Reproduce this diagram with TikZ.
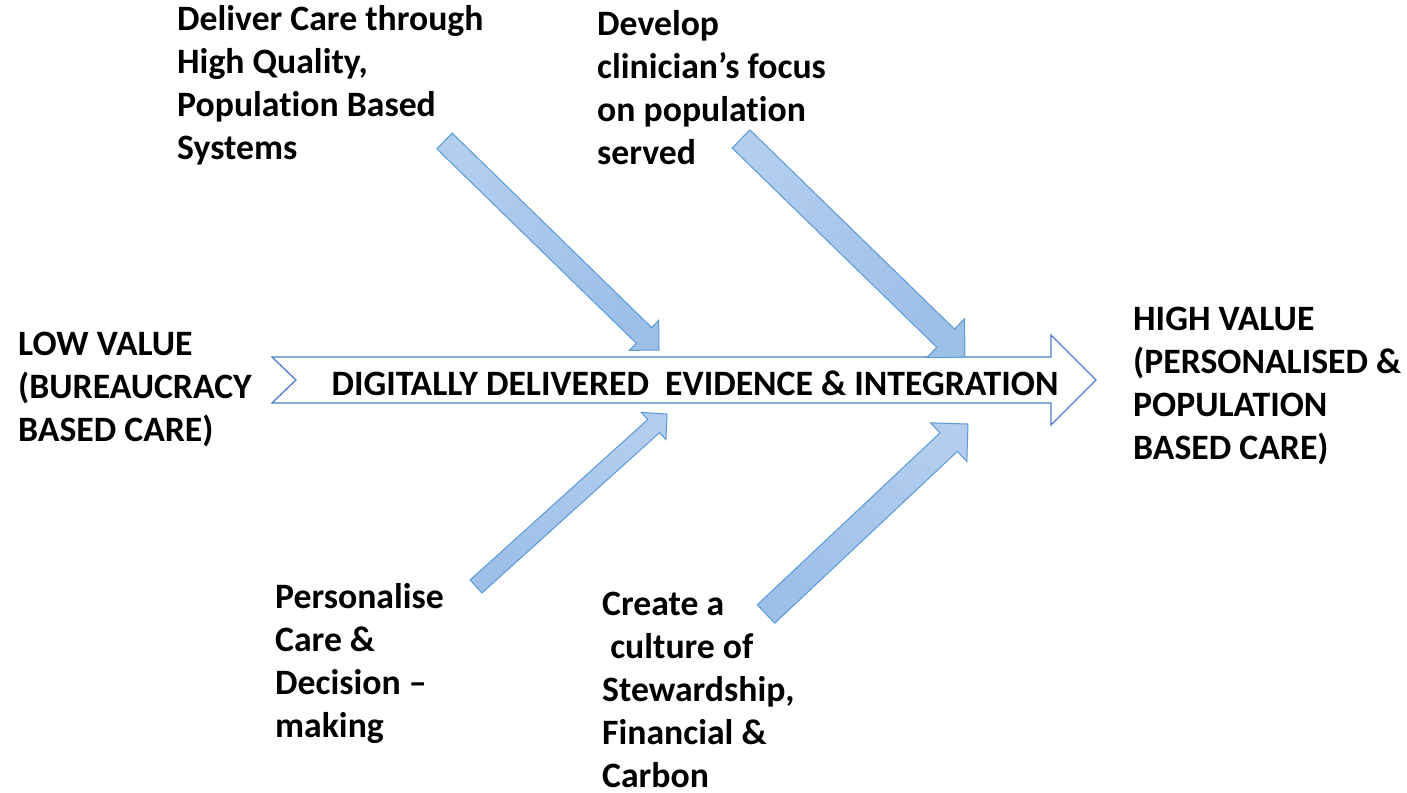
\documentclass[tikz,border=0pt]{standalone}
\usepackage{fontspec}
\setmainfont{Carlito}[Ligatures=NoCommon]
\usetikzlibrary{calc}
\definecolor{edgeblue}{HTML}{5B9BD5}
\definecolor{spineblue}{HTML}{4A7EC8}
\definecolor{filllight}{HTML}{B2CDEE}
\definecolor{filldark}{HTML}{9DBFE8}
\tikzset{
  lbl/.style={font=\fontsize{35.7}{43}\selectfont\bfseries, align=left, anchor=base west, inner sep=0pt, text=black},
  fishbone/.style={draw=edgeblue, line width=1pt, line join=miter, top color=filllight, bottom color=filldark, shading angle=#1},
  spine/.style={draw=spineblue, line width=1.3pt, fill=white, line join=miter}
}
\newcommand{\blockarrow}[7]{% name, tail, tip, half shaft, half head, head length, shading angle
  \coordinate (#1-T) at #2;
  \coordinate (#1-P) at #3;
  \coordinate (#1-H) at ($(#1-P)!#6!(#1-T)$);
  \draw[fishbone=#7] ($(#1-T)!#4!90:(#1-P)$) -- ($(#1-H)!#4!90:(#1-P)$) -- ($(#1-H)!#5!90:(#1-P)$)
     -- (#1-P) -- ($(#1-H)!#5!-90:(#1-P)$) -- ($(#1-H)!#4!-90:(#1-P)$) -- ($(#1-T)!#4!-90:(#1-P)$) -- cycle;
}
\begin{document}
\begin{tikzpicture}[x=1pt,y=-1pt]
\useasboundingbox[fill=white] (0,0) rectangle (1407,792);
% spine
\coordinate (s1) at (272,357);
\coordinate (s2) at (1051,357);
\coordinate (s3) at (1051,335);
\coordinate (s4) at (1096,380);
\coordinate (s5) at (1051,425);
\coordinate (s6) at (1051,403);
\coordinate (s7) at (272,403);
\coordinate (s8) at (296,380);
\draw[spine] (s1) -- (s2) -- (s3) -- (s4) -- (s5) -- (s6) -- (s7) -- (s8) -- cycle;
\node[lbl, anchor=base] (spinetext) at (695,395) {DIGITALLY DELIVERED\ \ EVIDENCE \& INTEGRATION};
% fishbone arrows
\blockarrow{a1}{(444.5,141)}{(659,350)}{11pt}{21pt}{21pt}{45}
\blockarrow{a2}{(741,139)}{(965,357)}{12.7pt}{27pt}{27pt}{45}
\blockarrow{a3}{(476,586.5)}{(667,414)}{8.8pt}{18.4pt}{18pt}{-45}
\blockarrow{a4}{(766,614)}{(968,424)}{12.7pt}{26.5pt}{26.5pt}{-45}
% labels (anchor = baseline of the last line)
\node[lbl] (low) at (18,441) {LOW VALUE\\(BUREAUCRACY\\BASED CARE)};
\node[lbl] (high) at (1133,459) {HIGH VALUE\\(PERSONALISED \&\\POPULATION\\BASED CARE)};
\node[lbl] (deliver) at (177,159) {Deliver Care through\\High Quality,\\Population Based\\Systems};
\node[lbl] (develop) at (597,164) {Develop\\clinician’s focus\\on population\\served};
\node[lbl] (personalise) at (275,737) {Personalise\\Care \&\\Decision –\\making};
\node[lbl, text depth=0pt] (create) at (602,787) {Create a\\\ culture of\\Stewardship,\\Financial \&\\Carbon};
\end{tikzpicture}
\end{document}
